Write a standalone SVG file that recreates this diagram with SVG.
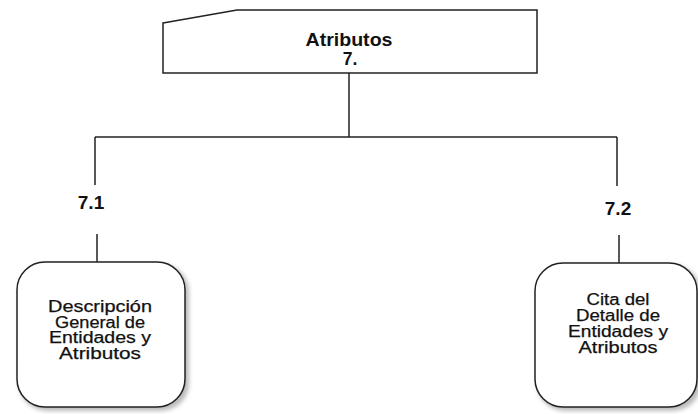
<svg xmlns="http://www.w3.org/2000/svg" width="698" height="414" viewBox="0 0 698 414">
<style>
.ln{stroke:#222;stroke-width:1.5;fill:none}
.box{fill:#fff;stroke:#222;stroke-width:1.5}
.sh{fill:#bbb;filter:url(#blur)}
.t{font-family:"Liberation Sans",Arial,sans-serif;fill:#111;text-anchor:middle}
.b{font-weight:bold;font-size:19px}
.h{font-weight:bold;font-size:17.5px}
.n{font-size:16px;stroke:#111;stroke-width:0.25}
</style>
<defs>
<filter id="blur" x="-10%" y="-10%" width="120%" height="120%"><feGaussianBlur stdDeviation="2"/></filter>
</defs>
<rect width="698" height="414" fill="#fff"/>
<g id="connectors">
<path class="ln" d="M349,73 V137 M95,137 H617 M95,137 V185 M97,234 V262 M617,137 V186 M619,235 V263"/>
</g>
<g id="n7">
<polygon class="box" points="163,23 237,10 537,10 537,73 163,73"/>
<text class="t h" x="349" y="46" textLength="87" lengthAdjust="spacingAndGlyphs">Atributos</text>
<text class="t h" x="350" y="64.5">7.</text>
</g>
<g id="n71">
<text class="t b" x="91" y="209">7.1</text>
<rect class="sh" x="19" y="264" width="170" height="147" rx="28"/>
<rect class="box" x="17" y="262" width="168" height="145" rx="28"/>
<text class="t n" x="100" y="312" textLength="104" lengthAdjust="spacingAndGlyphs">Descripción</text>
<text class="t n" x="100" y="327.5" textLength="90" lengthAdjust="spacingAndGlyphs">General de</text>
<text class="t n" x="100" y="343" textLength="102" lengthAdjust="spacingAndGlyphs">Entidades y</text>
<text class="t n" x="100" y="358.5" textLength="82" lengthAdjust="spacingAndGlyphs">Atributos</text>
</g>
<g id="n72">
<text class="t b" x="618" y="215">7.2</text>
<rect class="sh" x="537" y="265" width="164" height="146" rx="28"/>
<rect class="box" x="535" y="263" width="162" height="144" rx="28"/>
<text class="t n" x="618" y="305" textLength="63" lengthAdjust="spacingAndGlyphs">Cita del</text>
<text class="t n" x="618" y="321" textLength="84" lengthAdjust="spacingAndGlyphs">Detalle de</text>
<text class="t n" x="618" y="337" textLength="100" lengthAdjust="spacingAndGlyphs">Entidades y</text>
<text class="t n" x="618" y="353" textLength="79" lengthAdjust="spacingAndGlyphs">Atributos</text>
</g>
</svg>
